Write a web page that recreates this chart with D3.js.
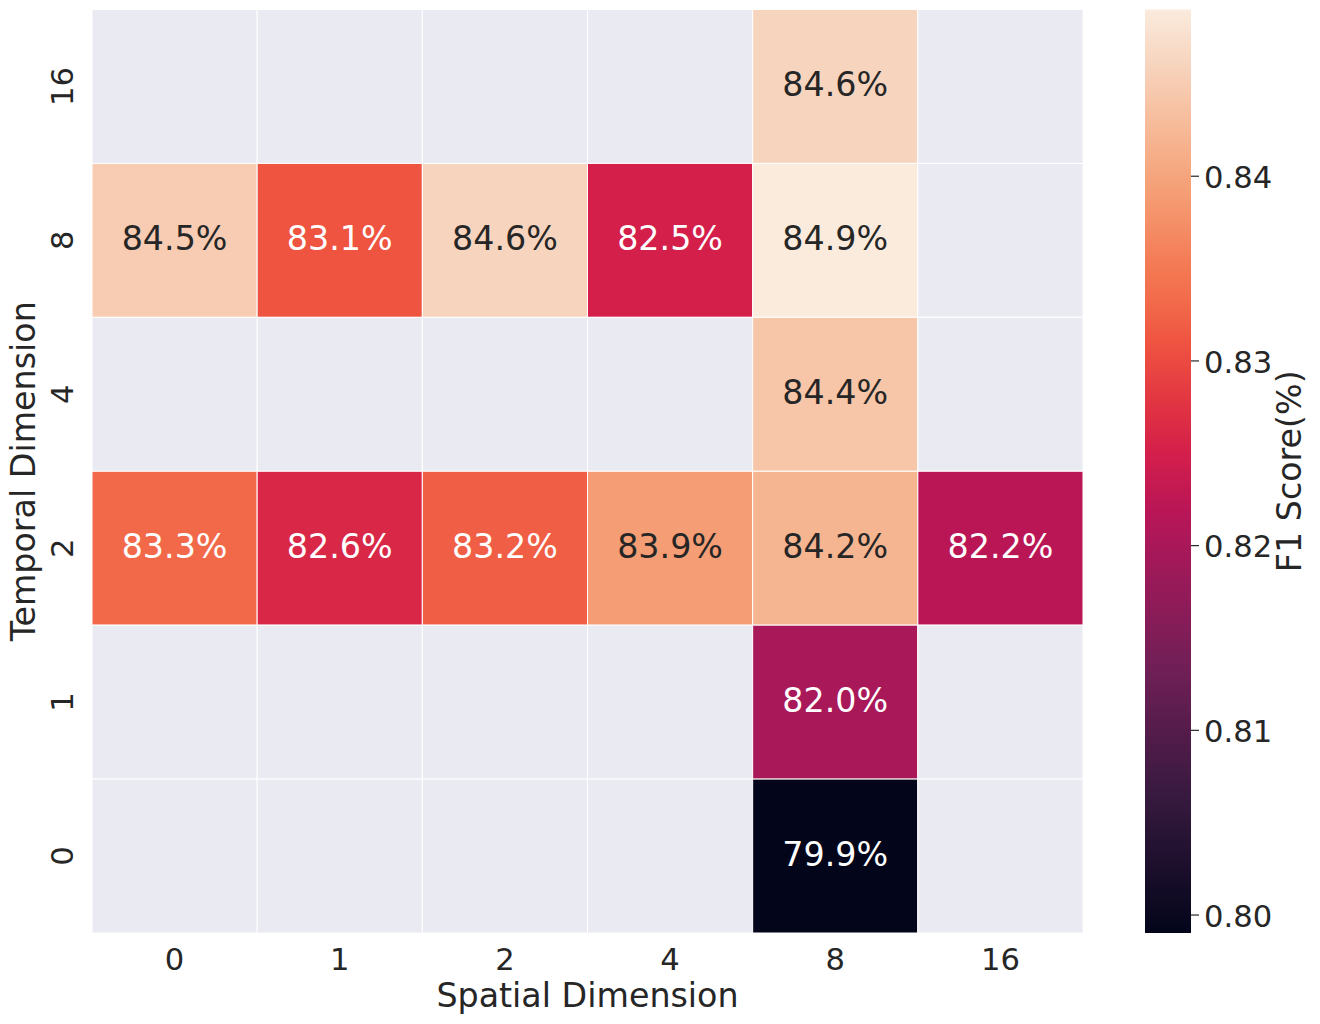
<!DOCTYPE html>
<html lang="en">
<head>
  <meta charset="UTF-8">
  <title>F1 Score heatmap</title>
  <script src="https://d3js.org/d3.v7.min.js"></script>
  <style>
    body { margin: 0; background: #fff; }
    text { font-family: "DejaVu Sans", sans-serif; fill: #262626; }
  </style>
</head>
<body>
  <div id="chart"></div>
  <script>
    // spatial dimension (columns) and temporal dimension (rows, top to bottom)
    const spatialDims = ["0", "1", "2", "4", "8", "16"];
    const temporalDims = ["16", "8", "4", "2", "1", "0"];

    // F1 scores per row, null = not run
    const row16 = [null, null, null, null, 0.846, null];
    const row8  = [0.845, 0.831, 0.846, 0.825, 0.849, null];
    const row4  = [null, null, null, null, 0.844, null];
    const row2  = [0.833, 0.826, 0.832, 0.839, 0.842, 0.822];
    const row1  = [null, null, null, null, 0.820, null];
    const row0  = [null, null, null, null, 0.799, null];
    const scores = [row16, row8, row4, row2, row1, row0];

    const colorTicks = [0.80, 0.81, 0.82, 0.83, 0.84];

    // seaborn "rocket" colormap, approximated by stops (position in 0..1, colour)
    const rocketPos = [0, 0.143, 0.286, 0.429, 0.46, 0.52, 0.571, 0.64, 0.68, 0.714, 0.80, 0.857, 0.94, 1];
    const rocketCol = ["#03051a", "#35193e", "#701f57", "#ad1759", "#ba1656", "#d41f4b", "#e13342",
                       "#ef5441", "#f2694a", "#f37651", "#f59d74", "#f6b48f", "#f7d4be", "#faebdd"];

    const width = 1320, height = 1024;
    const plot = { left: 92, right: 1083, top: 9.5, bottom: 933 };
    const cbar = { left: 1145, right: 1191 };

    const cells = [];
    scores.forEach((row, i) => {
      row.forEach((v, j) => {
        cells.push({ t: temporalDims[i], s: spatialDims[j], value: v });
      });
    });

    const svg = d3.select("#chart")
      .append("svg")
      .attr("width", width)
      .attr("height", height);

    const x = d3.scaleBand()
      .domain(spatialDims)
      .range([plot.left, plot.right]);

    const y = d3.scaleBand()
      .domain(temporalDims)
      .range([plot.top, plot.bottom]);

    const vmin = d3.min(cells, d => d.value);
    const vmax = d3.max(cells, d => d.value);
    const rocket = d3.scaleLinear()
      .domain(rocketPos)
      .range(rocketCol)
      .interpolate(d3.interpolateRgb);
    const color = d3.scaleSequential(rocket)
      .domain([vmin, vmax]);

    // relative luminance, same rule seaborn uses to pick annotation colour
    function luminance(c) {
      const rgb = d3.rgb(c);
      const lin = [rgb.r, rgb.g, rgb.b].map(v => {
        v /= 255;
        return v <= 0.03928 ? v / 12.92 : Math.pow((v + 0.055) / 1.055, 2.4);
      });
      return 0.2126 * lin[0] + 0.7152 * lin[1] + 0.0722 * lin[2];
    }

    svg.append("g")
      .selectAll("rect")
      .data(cells)
      .enter()
      .append("rect")
      .attr("x", d => x(d.s))
      .attr("y", d => y(d.t))
      .attr("width", x.bandwidth())
      .attr("height", y.bandwidth())
      .attr("fill", d => d.value == null ? "#eaeaf2" : color(d.value))
      .attr("stroke", "#ffffff")
      .attr("stroke-width", 1);

    svg.append("g")
      .selectAll("text")
      .data(cells.filter(d => d.value != null))
      .enter()
      .append("text")
      .attr("x", d => x(d.s) + x.bandwidth() / 2)
      .attr("y", d => y(d.t) + y.bandwidth() / 2 + 10)
      .attr("text-anchor", "middle")
      .style("font-size", "33.3px")
      .style("fill", d => luminance(color(d.value)) > 0.408 ? "#262626" : "#ffffff")
      .text(d => (d.value * 100).toFixed(1) + "%");

    // x axis
    const xAxis = svg.append("g")
      .attr("transform", `translate(0, ${plot.bottom})`)
      .call(d3.axisBottom(x).tickSize(0).tickPadding(15));
    xAxis.select(".domain").remove();
    xAxis.selectAll("text")
      .style("font-size", "30.6px");

    // y axis, labels rotated
    const yAxis = svg.append("g")
      .attr("transform", `translate(${plot.left}, 0)`)
      .call(d3.axisLeft(y).tickSize(0));
    yAxis.select(".domain").remove();
    yAxis.selectAll("text")
      .style("font-size", "30.6px")
      .attr("x", 0)
      .attr("y", -19)
      .attr("dy", 0)
      .attr("text-anchor", "middle")
      .attr("transform", "rotate(-90)");

    svg.append("text")
      .attr("x", (plot.left + plot.right) / 2)
      .attr("y", 1007)
      .attr("text-anchor", "middle")
      .style("font-size", "33.3px")
      .text("Spatial Dimension");

    svg.append("text")
      .attr("transform", `translate(35, ${(plot.top + plot.bottom) / 2}) rotate(-90)`)
      .attr("text-anchor", "middle")
      .style("font-size", "33.3px")
      .text("Temporal Dimension");

    // colorbar
    const cScale = d3.scaleLinear()
      .domain([vmin, vmax])
      .range([plot.bottom, plot.top]);

    const grad = svg.append("defs")
      .append("linearGradient")
      .attr("id", "cbar-grad")
      .attr("x1", 0).attr("y1", 1)
      .attr("x2", 0).attr("y2", 0);
    grad.selectAll("stop")
      .data(d3.range(0, 1.0001, 0.02))
      .enter()
      .append("stop")
      .attr("offset", d => d)
      .attr("stop-color", d => color(vmin + d * (vmax - vmin)));

    svg.append("rect")
      .attr("x", cbar.left)
      .attr("y", plot.top)
      .attr("width", cbar.right - cbar.left)
      .attr("height", plot.bottom - plot.top)
      .attr("fill", "url(#cbar-grad)");

    const cAxis = svg.append("g")
      .attr("transform", `translate(${cbar.right}, 0)`)
      .call(d3.axisRight(cScale)
        .tickValues(colorTicks)
        .tickFormat(d3.format(".2f"))
        .tickSize(8)
        .tickPadding(5));
    cAxis.select(".domain").remove();
    cAxis.selectAll("line")
      .attr("stroke", "#262626")
      .attr("stroke-width", 1.2);
    cAxis.selectAll("text")
      .style("font-size", "30.6px")
      .attr("dy", "0.38em");

    svg.append("text")
      .attr("transform", `translate(1301, ${(plot.top + plot.bottom) / 2}) rotate(-90)`)
      .attr("text-anchor", "middle")
      .style("font-size", "33.3px")
      .text("F1 Score(%)");
  </script>
</body>
</html>
